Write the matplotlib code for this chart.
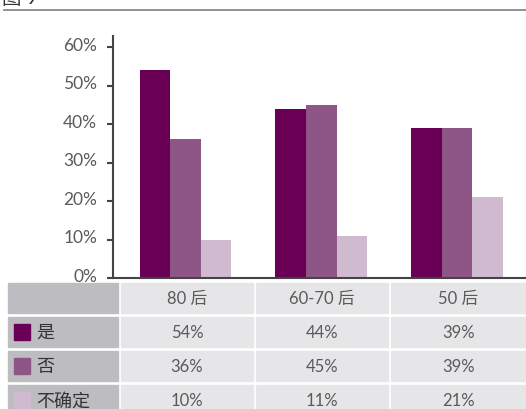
import matplotlib.pyplot as plt
import matplotlib.transforms as mtransforms
from matplotlib.patches import Rectangle

plt.rcParams['font.family'] = ['Lato', 'Noto Sans CJK SC', 'DejaVu Sans']

groups = ["80 后", "60-70 后", "50 后"]
answers = ["是", "否", "不确定"]
yes_vals = [0.54, 0.44, 0.39]
no_vals = [0.36, 0.45, 0.39]
unsure_vals = [0.10, 0.11, 0.21]
yticks = [0, 0.1, 0.2, 0.3, 0.4, 0.5, 0.6]
ytick_labels = ["0%", "10%", "20%", "30%", "40%", "50%", "60%"]

colors = ["#6a0056", "#8e5687", "#d0bad0"]
text_gray = "#5a5a5a"
W, H = 526, 410

fig = plt.figure(figsize=(W / 100, H / 100), dpi=100)


def px(x0, y0, x1, y1):
    # pixel box (top-left origin) -> figure fraction rect
    return [x0 / W, 1 - y1 / H, (x1 - x0) / W, (y1 - y0) / H]


ax = fig.add_axes(px(113, 37, 526, 279))
series = [yes_vals, no_vals, unsure_vals]
width = 0.225
for i, vals in enumerate(series):
    xs = [g + (i - 1) * width for g in range(len(groups))]
    ax.bar(xs, vals, width=width, color=colors[i], zorder=2)

ax.set_xlim(-0.534, 2.508)
ax.set_ylim(0, 0.6286)
ax.set_yticks(yticks)
ax.set_yticklabels(ytick_labels, fontsize=12.5, color=text_gray)
ax.set_xticks([])
for s in ["top", "right"]:
    ax.spines[s].set_visible(False)
for s in ["left", "bottom"]:
    ax.spines[s].set_color("#444444")
    ax.spines[s].set_linewidth(1.5)
ax.tick_params(axis="y", direction="out", length=4.5, width=1.5,
               color="#444444", pad=7)

# tick labels sit a few pixels above their ticks
lift = mtransforms.ScaledTranslation(0, 4 / 100, fig.dpi_scale_trans)
for lbl in ax.get_yticklabels():
    lbl.set_transform(lbl.get_transform() + lift)

# title fragment and rule at the top
fig.text(2 / W, 1 - 4 / H, "图 9", fontsize=14, color="#333333",
         ha="left", va="baseline")
fig.add_artist(plt.Line2D([4 / W, 1], [1 - 11 / H, 1 - 11 / H],
                          color="#8a8a8a", lw=1.3))

# data table below the chart
col_x = [(8, 118), (121, 253), (256, 388), (391, 526)]
row_y = [(284, 314), (318, 348), (352, 382), (386, 416)]
label_bg = "#bdbdc1"
cell_bg = "#e6e6e8"

for r, (y0, y1) in enumerate(row_y):
    for c, (x0, x1) in enumerate(col_x):
        rect = Rectangle(px(x0, y0, x1, y1)[:2],
                         (x1 - x0) / W, (y1 - y0) / H,
                         transform=fig.transFigure,
                         color=label_bg if c == 0 else cell_bg)
        fig.add_artist(rect)

ymid = lambda r: 1 - (row_y[r][0] + row_y[r][1]) / 2 / H
for c, name in enumerate(groups):
    xc = (col_x[c + 1][0] + col_x[c + 1][1]) / 2 / W
    fig.text(xc, ymid(0), name, ha="center", va="center",
             fontsize=12, color=text_gray)

for r, (name, vals) in enumerate(zip(answers, series), start=1):
    sq = Rectangle((14 / W, ymid(r) - 8 / H), 16 / W, 16 / H,
                   transform=fig.transFigure, color=colors[r - 1])
    fig.add_artist(sq)
    fig.text(36 / W, ymid(r), name, ha="left", va="center",
             fontsize=13, color="#333333")
    for c, v in enumerate(vals):
        xc = (col_x[c + 1][0] + col_x[c + 1][1]) / 2 / W
        fig.text(xc, ymid(r), f"{round(v * 100)}%", ha="center",
                 va="center", fontsize=12, color=text_gray)

fig.savefig("out.png", dpi=100)
